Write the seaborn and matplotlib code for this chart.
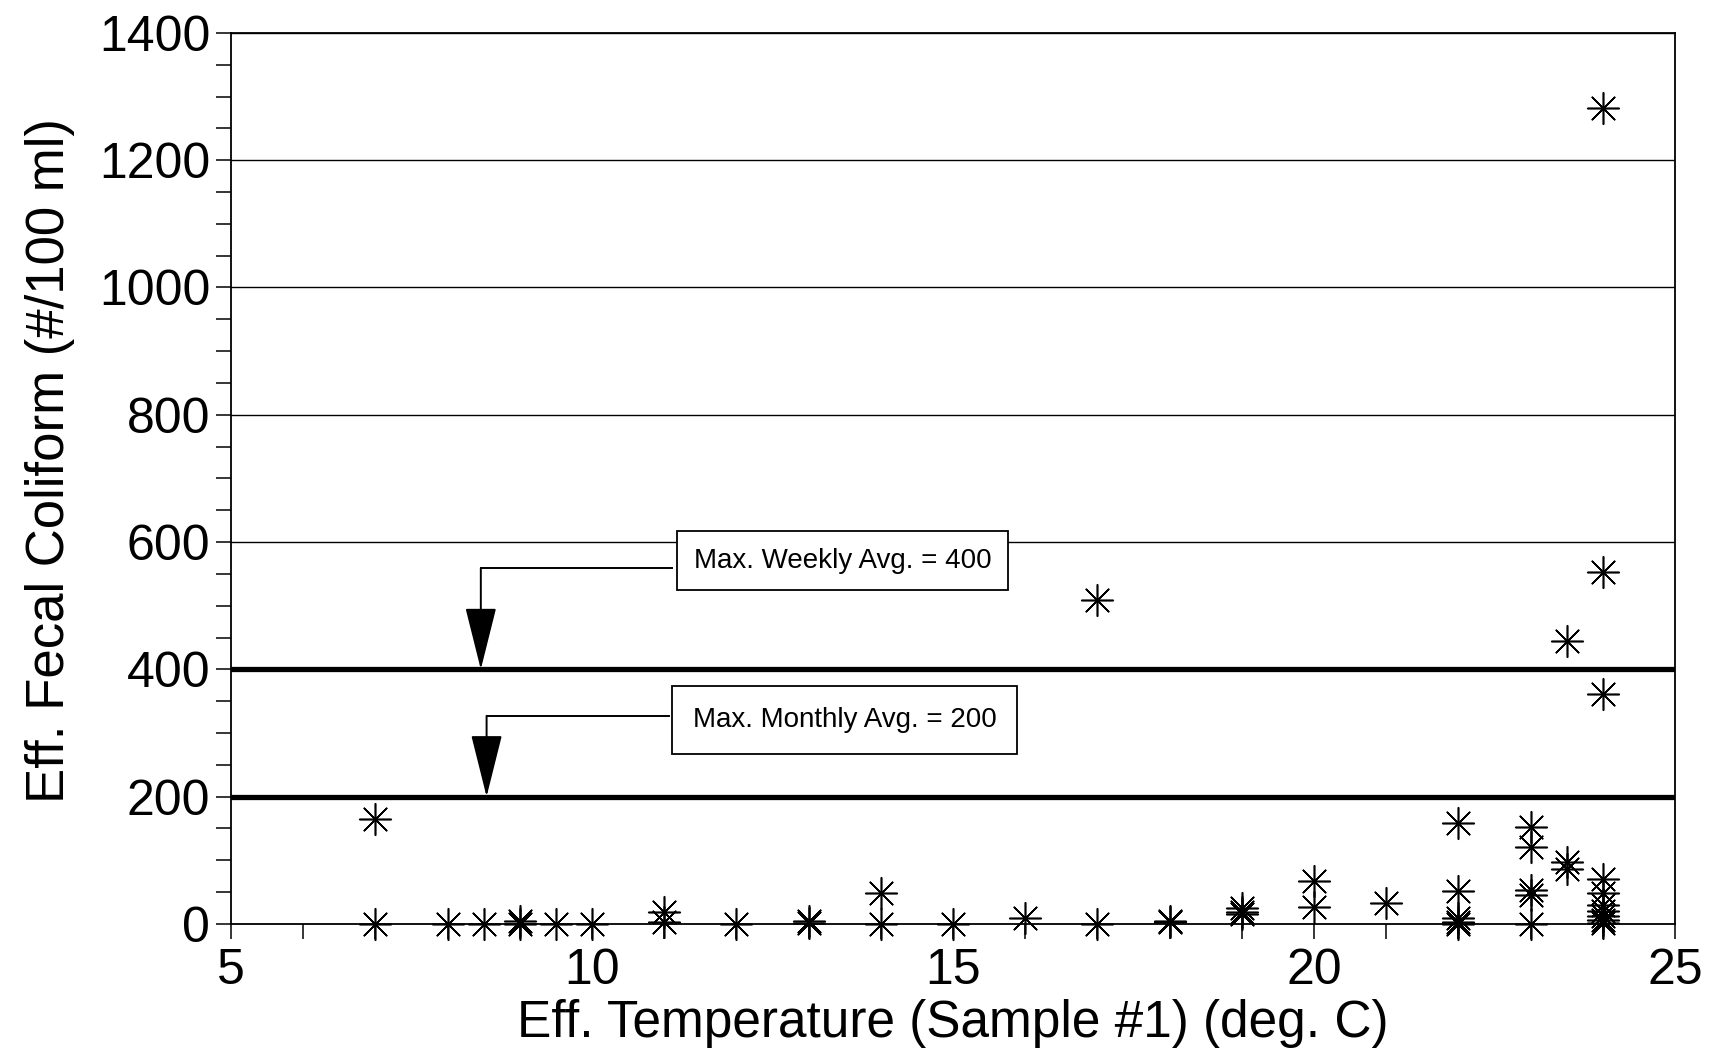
import matplotlib
matplotlib.use("Agg")
import matplotlib.pyplot as plt
import seaborn as sns
import numpy as np
import pandas as pd
from matplotlib.ticker import MultipleLocator

# ---- data ----
temperature = [7, 7, 8, 8.5, 9, 9, 9.5, 10, 11, 11, 12, 13, 13, 14, 14, 15, 16,
               17, 17, 18, 18, 19, 19, 19, 20, 20, 21,
               22, 22, 22, 22, 22,
               23, 23, 23, 23, 23,
               23.5, 23.5, 23.5,
               24, 24, 24, 24, 24, 24, 24, 24, 24, 24]
coliform = [165, 0, 0, 0, 0, 4, 0, 0, 18, 3, 0, 5, 2, 48, 0, 0, 10,
            509, 0, 3, 5, 25, 18, 15, 67, 26, 33,
            158, 51, 10, 3, 0,
            152, 121, 54, 46, 0,
            444, 98, 86,
            1282, 553, 362, 70, 48, 30, 20, 13, 6, 2]
limit_values = [400, 200]
limit_labels = ["Max. Weekly Avg. = 400", "Max. Monthly Avg. = 200"]
x_ticks = [5, 10, 15, 20, 25]
y_ticks = [0, 200, 400, 600, 800, 1000, 1200, 1400]

df = pd.DataFrame({"temp": temperature, "fc": coliform})

sns.set_theme(style="white")
plt.rcParams['font.family'] = ['Liberation Sans', 'DejaVu Sans']
plt.rcParams['text.color'] = 'black'
plt.rcParams['axes.labelcolor'] = 'black'
plt.rcParams['xtick.color'] = 'black'
plt.rcParams['ytick.color'] = 'black'

fig = plt.figure(figsize=(17.11, 10.62), dpi=100)
ax = fig.add_axes([0.135, 0.130, 0.844, 0.839])

# gridlines
for yv in y_ticks[1:]:
    ax.axhline(yv, color="black", lw=1.0, zorder=1)
# limit lines
for lv in limit_values:
    ax.axhline(lv, color="black", lw=3.8, zorder=2)

sns.scatterplot(data=df, x="temp", y="fc", marker=(8, 2, 0), s=520,
                color="black", linewidth=1.15, ax=ax, zorder=5, clip_on=False,
                legend=False)

ax.set_xlim(5, 25)
ax.set_ylim(0, 1400)
ax.set_xticks(x_ticks)
ax.set_yticks(y_ticks)
ax.xaxis.set_minor_locator(MultipleLocator(1))
ax.yaxis.set_minor_locator(MultipleLocator(50))
ax.tick_params(axis="both", which="both", direction="out", length=11,
               width=1.1, color="black", labelsize=36, pad=4,
               labelcolor="black", bottom=True, left=True)
ax.tick_params(axis="x", which="major", pad=6)
for sp in ax.spines.values():
    sp.set_visible(True)
    sp.set_color("black")
    sp.set_linewidth(1.3)

ax.set_xlabel("Eff. Temperature (Sample #1) (deg. C)", fontsize=37, labelpad=4,
              color="black")
ax.set_ylabel("Eff. Fecal Coliform (#/100 ml)", fontsize=38, labelpad=17,
              color="black")
ax.yaxis.label.set_y(0.52)

# annotations
box_centers = [(13.47, 571), (13.50, 320)]
box_pads = [0.6, 0.75]
elbow_y = [559, 327]
arrow_x = [8.46, 8.54]
box_left = [11.11, 11.06]
for lbl, (cx, cy), pd_, ey, axx, bl, lv in zip(limit_labels, box_centers, box_pads,
                                               elbow_y, arrow_x, box_left, limit_values):
    ax.plot([bl, axx], [ey, ey], color="black", lw=1.4, zorder=6,
            solid_capstyle="projecting")
    ax.annotate("", xy=(axx, lv), xytext=(axx, ey),
                arrowprops=dict(arrowstyle="-|>,head_length=2.0,head_width=0.5",
                                mutation_scale=20, lw=1.4, color="black",
                                shrinkA=0, shrinkB=0), zorder=6)
    ax.text(cx, cy, lbl, ha="center", va="center", fontsize=20, zorder=7,
            color="black",
            bbox=dict(boxstyle=f"square,pad={pd_}", facecolor="white",
                      edgecolor="black", lw=1.3))

fig.savefig("out.png", dpi=100)
